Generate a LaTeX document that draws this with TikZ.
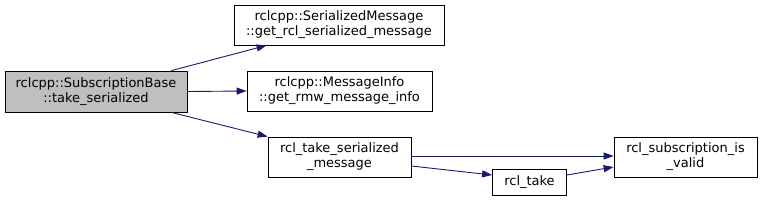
\documentclass[tikz,border=0pt]{standalone}
\usepackage{fontspec}
\setmainfont{DejaVu Sans}
\usetikzlibrary{arrows.meta,calc}
\definecolor{edgeblue}{HTML}{191970}
\definecolor{boxgray}{HTML}{BFBFBF}
\begin{document}
\begin{tikzpicture}[x=1pt,y=-1pt,
  box/.style={draw=black, line width=0.8pt, fill=white, inner sep=0pt, align=center,
    font=\fontsize{13}{15}\selectfont},
  edge/.style={draw=edgeblue, line width=0.9pt, -{Triangle[length=10pt,width=7pt]}}]
\useasboundingbox (0,0) rectangle (763,201);
\node[box, fill=boxgray, minimum width=182pt, minimum height=41pt] (A) at (96,91.5) {rclcpp::SubscriptionBase\\::take\_serialized};
\node[box, minimum width=210pt, minimum height=40pt] (B) at (339,25) {rclcpp::SerializedMessage\\::get\_rcl\_serialized\_message};
\node[box, minimum width=185pt, minimum height=40pt] (C) at (339.5,91) {rclcpp::MessageInfo\\::get\_rmw\_message\_info};
\node[box, minimum width=143pt, minimum height=40pt] (D) at (339.5,157) {rcl\_take\_serialized\\\_message};
\node[box, minimum width=74pt, minimum height=26pt] (E) at (529.5,182.5) {rcl\_take};
\node[box, minimum width=143pt, minimum height=40pt] (F) at (685.5,157) {rcl\_subscription\_is\\\_valid};
\draw[edge] ([xshift=-16pt]A.north east) -- ([xshift=33pt]B.south west);
\draw[edge] (A.east) -- (C.west);
\draw[edge] ([xshift=-16pt]A.south east) -- (D.north west);
\draw[edge] ([yshift=1pt]D.east) -- ([yshift=1pt]F.west);
\draw[edge] ([yshift=-9pt]D.east) -- ([yshift=7.5pt]E.west);
\draw[edge] ([yshift=7.5pt]E.east) -- ([yshift=-10pt]F.west);
\end{tikzpicture}
\end{document}
